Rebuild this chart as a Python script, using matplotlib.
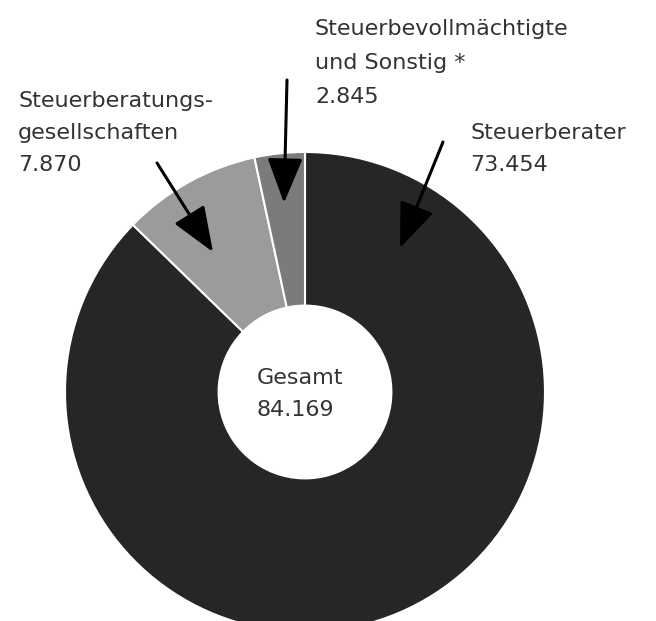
import matplotlib.pyplot as plt

# -----------------------------
# Data
# -----------------------------
labels = ["Steuerberater", "Steuerberatungs-\ngesellschaften", "Steuerbevollmächtigte\nund Sonstig *"]
values = [73454, 7870, 2845]
value_labels = ["73.454", "7.870", "2.845"]
total_label = "84.169"
colors = ["#262626", "#9b9b9b", "#7b7b7b"]

# -----------------------------
# Figure (axes in pixel units, y measured from top)
# -----------------------------
W, H = 656, 621
fig = plt.figure(figsize=(W / 100, H / 100), dpi=100)
ax = fig.add_axes([0, 0, 1, 1])
ax.set_xlim(0, W)
ax.set_ylim(0, H)
ax.set_aspect("equal")
ax.axis("off")


def Y(y):
    return H - y


cx, cy, R = 305, 392, 240
ax.pie(values, colors=colors, startangle=90, counterclock=False,
       center=(cx, Y(cy)), radius=R,
       wedgeprops=dict(width=R * 0.64, edgecolor="white", linewidth=1.5))
ax.set_xlim(0, W)
ax.set_ylim(0, H)

txt = dict(fontsize=16, color="#333333", family="DejaVu Sans",
           va="center", ha="left")

ax.text(470, Y(149), f"{labels[0]}\n{value_labels[0]}", linespacing=1.78, **txt)
ax.text(18, Y(133), f"{labels[1]}\n{value_labels[1]}", linespacing=1.75, **txt)
ax.text(315, Y(63), f"{labels[2]}\n{value_labels[2]}", linespacing=1.87, **txt)
ax.text(257, Y(394), f"Gesamt\n{total_label}", linespacing=1.7, **txt)

arrow = dict(arrowstyle="-|>,head_length=1.4,head_width=0.55",
             mutation_scale=20, color="black", lw=2.2, shrinkA=0, shrinkB=0)
ax.annotate("", xy=(400, Y(248)), xytext=(443, Y(142)), arrowprops=arrow)
ax.annotate("", xy=(213, Y(252)), xytext=(157, Y(163)), arrowprops=arrow)
ax.annotate("", xy=(284, Y(203)), xytext=(287, Y(80)), arrowprops=arrow)

fig.savefig("out.png", dpi=100)
